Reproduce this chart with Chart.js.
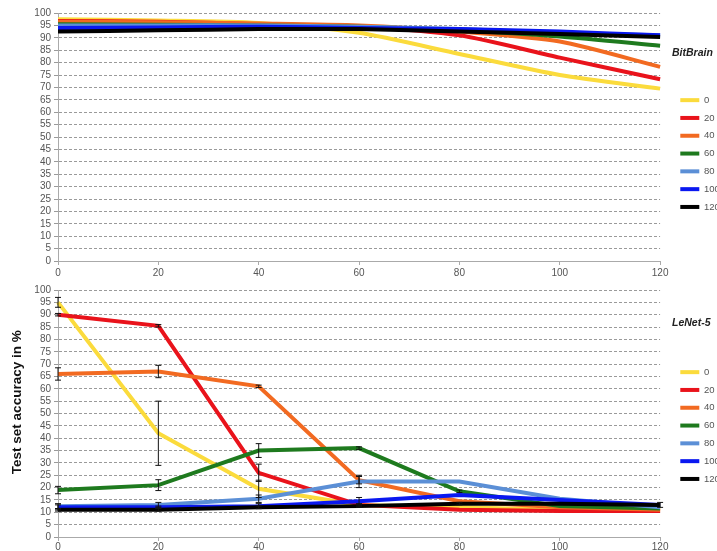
<!DOCTYPE html>
<html>
<head>
<meta charset="utf-8">
<script src="https://cdn.jsdelivr.net/npm/chart.js@4.4.0/dist/chart.umd.min.js"></script>
<style>
  body { margin: 0; background: #fff; overflow: hidden; }
  #wrap { position: relative; width: 717px; height: 551px; overflow: hidden; }
  .box { position: absolute; left: 0; width: 717px; }
</style>
</head>
<body>
<div id="wrap">
  <div class="box" style="top:0;height:281px"><canvas id="topChart"></canvas></div>
  <div class="box" style="top:277px;height:276px"><canvas id="bottomChart"></canvas></div>
</div>
<script>
// x values shared by both panels
const xLabels = [0, 20, 40, 60, 80, 100, 120];
const seriesNames = ['0', '20', '40', '60', '80', '100', '120'];
const seriesColors = ['#FBDB3C', '#E9131B', '#F26A21', '#1E7A1E', '#5B8FD6', '#0A18F0', '#000000'];

// BitBrain panel
const bitBrain0 = [97.5, 97, 96, 92, 83.5, 75, 69.5];
const bitBrain20 = [96.8, 96.5, 95.5, 94.5, 91, 82, 73.3];
const bitBrain40 = [96.5, 96.3, 95.8, 95, 92.5, 88.5, 78.3];
const bitBrain60 = [95.5, 95.3, 95, 94.5, 93, 90.5, 86.8];
const bitBrain80 = [95, 95, 95, 94.5, 93.5, 92, 91];
const bitBrain100 = [94, 94.2, 94.5, 94, 93.5, 92.5, 91];
const bitBrain120 = [92.5, 93, 93.5, 93.5, 92.5, 91.5, 90.3];

// LeNet-5 panel
const leNet0 = [95, 42, 19.5, 13, 12, 11, 11];
const leNet20 = [90, 85.5, 26, 13, 11, 10.5, 10.5];
const leNet40 = [66, 67, 61, 23, 14.5, 12, 11];
const leNet60 = [19, 21, 35, 36, 18.5, 12.5, 11.5];
const leNet80 = [12.5, 13, 15.5, 22.5, 22.5, 15.5, 12];
const leNet100 = [12, 12, 12.5, 14.5, 17, 15, 13];
const leNet120 = [11, 11, 12, 12.5, 13.5, 13.5, 13];

// LeNet-5 error bars (+/-)
const leNetErr0 = [2, 13, 3.5, 0, 0, 0, 0];
const leNetErr20 = [0.5, 0.5, 3.5, 0.5, 0, 0, 0];
const leNetErr40 = [2.5, 2.5, 0.5, 1.5, 0, 0, 0];
const leNetErr60 = [1.5, 2.2, 2.8, 0.5, 0.5, 0, 0];
const leNetErr80 = [1, 1, 1.5, 2.5, 0, 0, 0];
const leNetErr100 = [1, 0.5, 1, 1.5, 0, 0, 0];
const leNetErr120 = [0.5, 0.5, 0.5, 0.5, 0.5, 0, 1];

const yTicks = { min: 0, max: 100, step: 5 };

const tickFont = { family: "'Liberation Sans', Arial, sans-serif", size: 10 };
const tickColor = '#555';

function makeDatasets(values, errors, tension) {
    return values.map((v, i) => ({
        label: seriesNames[i],
        data: v,
        errors: errors ? errors[i] : null,
        borderColor: seriesColors[i],
        backgroundColor: seriesColors[i],
        borderWidth: 4,
        pointRadius: 0,
        tension: tension,
        order: values.length - i // later series on top, like the original
    }));
}

// error bars drawn through the y scale
const errorBars = {
    id: 'errorBars',
    afterDatasetsDraw(chart) {
        const ctx = chart.ctx;
        const yScale = chart.scales.y;
        ctx.save();
        ctx.strokeStyle = '#111';
        ctx.lineWidth = 1;
        chart.data.datasets.forEach((ds, di) => {
            if (!ds.errors) return;
            const meta = chart.getDatasetMeta(di);
            meta.data.forEach((pt, j) => {
                const e = ds.errors[j];
                if (!e) return;
                const top = yScale.getPixelForValue(ds.data[j] + e);
                const bot = yScale.getPixelForValue(ds.data[j] - e);
                ctx.beginPath();
                ctx.moveTo(pt.x, top); ctx.lineTo(pt.x, bot);
                ctx.moveTo(pt.x - 3, top); ctx.lineTo(pt.x + 3, top);
                ctx.moveTo(pt.x - 3, bot); ctx.lineTo(pt.x + 3, bot);
                ctx.stroke();
            });
        });
        ctx.restore();
    }
};

// push the legend a bit to the right, away from the plot
const legendShift = {
    id: 'legendShift',
    afterLayout(chart) {
        const l = chart.legend;
        const dx = 672 - l.left;
        l.left += dx;
        l.right += dx;
    }
};

function makeOptions(panelTitle, axisTitle, titlePad, xPad) {
    return {
        responsive: true,
        maintainAspectRatio: false,
        animation: false,
        layout: { padding: { top: 13, right: -1, bottom: 0, left: 0 } },
        plugins: {
            tooltip: { enabled: false },
            legend: {
                position: 'right',
                align: 'start',
                title: {
                    display: true,
                    text: panelTitle,
                    position: 'start',
                    color: '#222',
                    font: { family: "'Liberation Sans', Arial, sans-serif", size: 10.5, weight: 'bold', style: 'italic' },
                    padding: titlePad
                },
                labels: {
                    boxWidth: 19,
                    boxHeight: 4,
                    padding: 8.3,
                    color: tickColor,
                    font: { family: tickFont.family, size: 9.5 },
                    sort: (a, b) => a.datasetIndex - b.datasetIndex,
                    generateLabels: (chart) => Chart.defaults.plugins.legend.labels.generateLabels(chart)
                        .map(l => Object.assign(l, { lineWidth: 0 }))
                }
            }
        },
        scales: {
            x: {
                type: 'category',
                offset: false,
                grid: { display: true, drawOnChartArea: false, drawTicks: true, tickLength: 4, color: '#aaa' },
                border: { color: '#aaa' },
                ticks: { color: tickColor, font: tickFont, maxRotation: 0, padding: xPad }
            },
            y: {
                min: yTicks.min,
                max: yTicks.max,
                afterFit: (scale) => { scale.width = 58; },
                grid: { color: '#9a9a9a', tickLength: 4, tickBorderDash: [] },
                border: { color: '#aaa', dash: [3, 2] },
                ticks: { stepSize: yTicks.step, autoSkip: false, color: tickColor, font: tickFont, padding: 3 },
                title: {
                    display: !!axisTitle,
                    text: axisTitle || '',
                    color: '#111',
                    font: { family: "'Liberation Sans', Arial, sans-serif", size: 13.5, weight: 'bold' },
                    padding: { top: 9, bottom: 0 }
                }
            }
        }
    };
}

new Chart(document.getElementById('topChart').getContext('2d'), {
    type: 'line',
    data: {
        labels: xLabels,
        datasets: makeDatasets([bitBrain0, bitBrain20, bitBrain40, bitBrain60, bitBrain80, bitBrain100, bitBrain120], null, 0.25)
    },
    options: makeOptions('BitBrain', null, { top: 35, bottom: 26.5 }, 2),
    plugins: [legendShift]
});

new Chart(document.getElementById('bottomChart').getContext('2d'), {
    type: 'line',
    data: {
        labels: xLabels,
        datasets: makeDatasets([leNet0, leNet20, leNet40, leNet60, leNet80, leNet100, leNet120],
            [leNetErr0, leNetErr20, leNetErr40, leNetErr60, leNetErr80, leNetErr100, leNetErr120], 0)
    },
    // leading no-break spaces lift the rotated title to where the original sits
    options: makeOptions('LeNet-5', '\u00A0\u00A0\u00A0\u00A0\u00A0\u00A0Test set accuracy in %', { top: 27.5, bottom: 29 }, 0),
    plugins: [errorBars, legendShift]
});
</script>
</body>
</html>
